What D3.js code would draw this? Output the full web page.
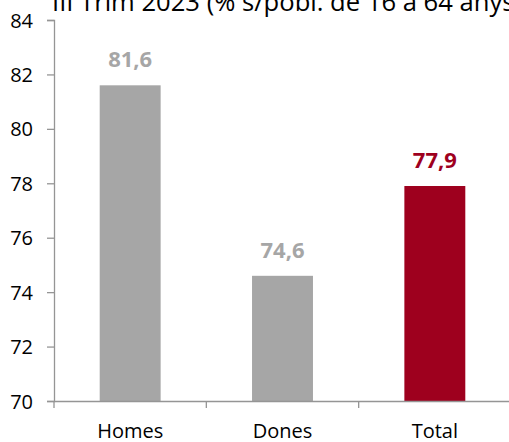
<!DOCTYPE html>
<html lang="ca">
<head>
<meta charset="utf-8">
<title>Taxa d'activitat</title>
<script src="https://cdn.jsdelivr.net/npm/d3@7"></script>
<style>
  body { margin: 0; background: #fff; }
  svg { display: block; font-family: "Open Sans", sans-serif; }
  .axis path, .axis line { fill: none; stroke: #959595; stroke-width: 1.3px; }
  .axis text { font-family: "Open Sans", sans-serif; font-size: 20px; fill: #000; }
</style>
</head>
<body>
<script>
var categories = ["Homes", "Dones", "Total"];
var values = [81.6, 74.6, 77.9];
var barColors = ["#a6a6a6", "#a6a6a6", "#9e001e"];
var yTicks = [70, 72, 74, 76, 78, 80, 82, 84];
var title = "III Trim 2023 (% s/pobl. de 16 a 64 anys)";

var w = 509, h = 442;
var mLeft = 54, mRight = 511, mTop = 20, mBottom = 401;

var svg = d3.select("body").append("svg")
  .attr("width", w)
  .attr("height", h);

var xScale = d3.scaleBand()
  .domain(categories)
  .range([mLeft, mRight])
  .padding(0);

var yScale = d3.scaleLinear()
  .domain([70, 84])
  .range([mBottom, mTop]);

var barW = xScale.bandwidth() * 0.4;

// title (partly cut off at the top and right, as in the source)
svg.append("text")
  .attr("x", 52)
  .attr("y", 10.5)
  .attr("font-size", "25.6px")
  .attr("fill", "#000")
  .text(title);

// bars
svg.selectAll("rect.bar")
  .data(values)
  .enter()
  .append("rect")
  .attr("class", "bar")
  .attr("x", (d, i) => xScale(categories[i]) + (xScale.bandwidth() - barW) / 2)
  .attr("y", d => yScale(d))
  .attr("width", barW)
  .attr("height", d => mBottom - yScale(d))
  .attr("fill", (d, i) => barColors[i]);

// value labels
svg.selectAll("text.val")
  .data(values)
  .enter()
  .append("text")
  .attr("class", "val")
  .attr("x", (d, i) => xScale(categories[i]) + xScale.bandwidth() / 2)
  .attr("y", d => yScale(d) - 18)
  .attr("text-anchor", "middle")
  .attr("font-size", "22px")
  .attr("font-weight", "bold")
  .attr("fill", (d, i) => barColors[i])
  .text(d => d.toFixed(1).replace(".", ","));

// y axis
var yAxis = d3.axisLeft(yScale)
  .tickValues(yTicks)
  .tickSize(7)
  .tickPadding(14)
  .tickSizeOuter(7);
var gy = svg.append("g")
  .attr("class", "axis")
  .attr("transform", "translate(" + mLeft + ",0)")
  .call(yAxis);
gy.selectAll("text").attr("dy", "0.35em");

// x axis: labels centred in each band, ticks on the band boundaries
var xAxis = d3.axisBottom(xScale)
  .tickSize(0)
  .tickPadding(23)
  .tickSizeOuter(0);
var gx = svg.append("g")
  .attr("class", "axis")
  .attr("transform", "translate(0," + mBottom + ")")
  .call(xAxis);

gx.selectAll("line.sep")
  .data(categories)
  .enter()
  .append("line")
  .attr("class", "sep")
  .attr("x1", d => xScale(d))
  .attr("x2", d => xScale(d))
  .attr("y1", 0)
  .attr("y2", 7);
</script>
</body>
</html>
